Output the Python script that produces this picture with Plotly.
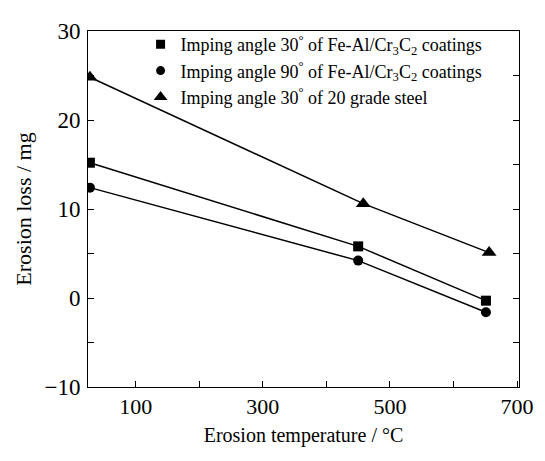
import plotly.graph_objects as go

# Data
temp_steel = [28, 458, 656]
temp_coat30 = [28, 450, 651]
temp_coat90 = [28, 450, 651]
loss_coat30 = [15.2, 5.8, -0.3]
loss_coat90 = [12.4, 4.2, -1.6]
loss_steel = [24.8, 10.6, 5.1]

names = [
    "Imping angle 30<sup>°</sup> of Fe-Al/Cr<sub>3</sub>C<sub>2</sub> coatings",
    "Imping angle 90<sup>°</sup> of Fe-Al/Cr<sub>3</sub>C<sub>2</sub> coatings",
    "Imping angle 30<sup>°</sup> of 20 grade steel",
]
symbols = ["square", "circle", "triangle-up"]
marker_sizes = [10, 10, 13]
legend_sizes = [9, 9, 12]

x_tickvals = [100, 200, 300, 400, 500, 600, 700]
x_ticktext = ["100", "", "300", "", "500", "", "700"]
y_tickvals = [-10, -5, 0, 5, 10, 15, 20, 25, 30]
y_ticktext = ["−10", "", "0", "", "10", "", "20", "", "30"]

FONT = "Liberation Serif, Times New Roman, serif"

fig = go.Figure()
series = [(temp_coat30, loss_coat30), (temp_coat90, loss_coat90), (temp_steel, loss_steel)]
for (xs, ys), sym, ms in zip(series, symbols, marker_sizes):
    fig.add_trace(go.Scatter(
        x=xs, y=ys, mode="lines+markers",
        line=dict(color="black", width=1.5),
        marker=dict(symbol=sym, size=ms, color="black"),
        showlegend=False,
    ))
for name, sym, ms in zip(names, symbols, legend_sizes):
    fig.add_trace(go.Scatter(
        x=[None], y=[None], mode="markers", name=name,
        marker=dict(symbol=sym, size=ms, color="black"),
        legendgroup=name,
    ))

# The page body adds an 8px offset, so the figure is sized/margined to compensate
fig.update_layout(
    width=537, height=445,
    margin=dict(l=80, r=18, t=11, b=62),
    paper_bgcolor="white", plot_bgcolor="white",
    font=dict(family=FONT, color="black", size=20),
    legend=dict(
        x=0.122, y=1.014, xanchor="left", yanchor="top",
        font=dict(family=FONT, size=18),
        bgcolor="rgba(0,0,0,0)", tracegroupgap=0,
        itemwidth=30,
    ),
)
fig.update_xaxes(
    range=[25, 703], tickvals=x_tickvals, ticktext=x_ticktext,
    ticks="inside", ticklen=6, tickcolor="black",
    showline=True, linecolor="black", linewidth=1, mirror=True,
    showgrid=False, zeroline=False,
    title=dict(text="Erosion temperature / °C", font=dict(size=20), standoff=9),
    tickfont=dict(size=22),
)
fig.update_yaxes(
    range=[-10, 30], tickvals=y_tickvals, ticktext=y_ticktext,
    ticks="inside", ticklen=6, tickcolor="black",
    showline=True, linecolor="black", linewidth=1, mirror="ticks",
    showgrid=False, zeroline=False, ticklabelstandoff=2,
    title=dict(text="Erosion loss / mg", font=dict(size=22), standoff=6),
    tickfont=dict(size=23),
)
fig.write_html("out.html")
